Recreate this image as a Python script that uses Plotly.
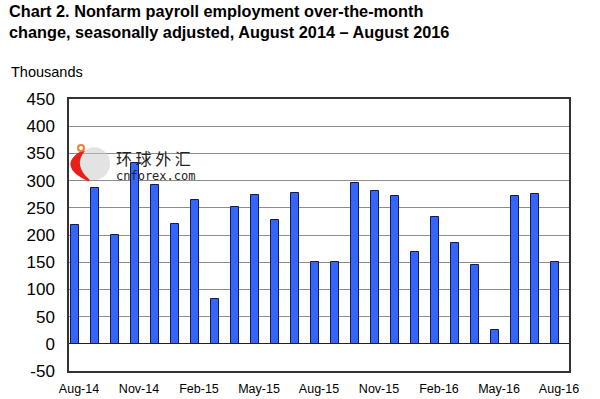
import plotly.graph_objects as go

months = ["Aug-14","Sep-14","Oct-14","Nov-14","Dec-14","Jan-15","Feb-15","Mar-15","Apr-15",
          "May-15","Jun-15","Jul-15","Aug-15","Sep-15","Oct-15","Nov-15","Dec-15","Jan-16",
          "Feb-16","Mar-16","Apr-16","May-16","Jun-16","Jul-16","Aug-16"]
values = [219, 286, 200, 332, 292, 221, 265, 83, 251, 273, 227, 277, 150, 150, 296, 280,
          271, 169, 233, 186, 144, 25, 271, 275, 151]
tick_labels = ["Aug-14","Nov-14","Feb-15","May-15","Aug-15","Nov-15","Feb-16","May-16","Aug-16"]
y_ticks = list(range(-50, 451, 50))
y_tick_text = [str(v) for v in y_ticks]

xpos = list(range(len(months)))
tickvals = [months.index(m) for m in tick_labels]

fig = go.Figure()
fig.add_trace(go.Bar(
    x=xpos, y=values, width=0.44, offset=-0.42,
    marker=dict(color="#3366FF", line=dict(color="#1a1a40", width=1)),
    hovertext=months,
))

fig.update_layout(
    width=600, height=399,
    margin=dict(l=69, r=31, t=99, b=28, autoexpand=False),
    paper_bgcolor="white", plot_bgcolor="white",
    showlegend=False, bargap=0,
    font=dict(family="Liberation Sans, Arial, sans-serif", color="black"),
    xaxis=dict(range=[-0.5, 24.5], tickmode="array", tickvals=tickvals, ticktext=tick_labels,
               showgrid=False, zeroline=False, showline=True, linecolor="#333333", linewidth=1.5,
               mirror=True, ticks="", tickfont=dict(size=12.5), ticklabelstandoff=5,
               automargin=False),
    yaxis=dict(range=[-50, 450], tickmode="array", tickvals=y_ticks, ticktext=y_tick_text,
               showgrid=True, gridcolor="#8c8c8c", gridwidth=1.2,
               zeroline=True, zerolinecolor="#222222", zerolinewidth=1.2,
               showline=True, linecolor="#333333", linewidth=1.5, mirror=True,
               ticks="", tickfont=dict(size=17), ticklabelstandoff=9, automargin=False),
)

fig.add_annotation(x=0, y=1, xref="paper", yref="paper", xshift=-62, yshift=99,
                   xanchor="left", yanchor="top", align="left", showarrow=False,
                   text="<b>Chart 2. Nonfarm payroll employment over-the-month<br>change, seasonally adjusted, August 2014 – August 2016</b>",
                   font=dict(size=16.3, family="Liberation Sans, Arial, sans-serif"))
fig.add_annotation(x=0, y=1, xref="paper", yref="paper", xshift=-60, yshift=37,
                   xanchor="left", yanchor="top", showarrow=False,
                   text="Thousands", font=dict(size=14.5))

# watermark
fig.add_shape(type="circle", xref="paper", yref="paper", layer="above",
              x0=0.018, x1=0.082, y0=0.702, y1=0.823,
              fillcolor="rgba(200,200,200,0.5)", line=dict(width=0))
fig.add_shape(type="path", xref="paper", yref="paper", layer="above",
              path="M 0.03,0.81 Q -0.025,0.756 0.04,0.70 Q 0.005,0.756 0.03,0.81 Z",
              fillcolor="#e8201c", line=dict(color="#e8201c", width=2))
fig.add_shape(type="circle", xref="paper", yref="paper", layer="above",
              x0=0.018, x1=0.030, y0=0.809, y1=0.831,
              fillcolor="white", line=dict(color="#f08030", width=2))
fig.add_annotation(x=0.09, y=0.835, xref="paper", yref="paper", xanchor="left", yanchor="top",
                   showarrow=False, text="环 球 外 汇",
                   font=dict(size=16, family="Noto Sans CJK SC", color="#222222"))
fig.add_annotation(x=0.09, y=0.75, xref="paper", yref="paper", xanchor="left", yanchor="top",
                   showarrow=False, text="cnforex.com",
                   font=dict(size=12, family="DejaVu Sans Mono", color="#222222"))

fig.write_html("out.html", config={"displayModeBar": False},
               post_script="document.body.style.margin='0';")
